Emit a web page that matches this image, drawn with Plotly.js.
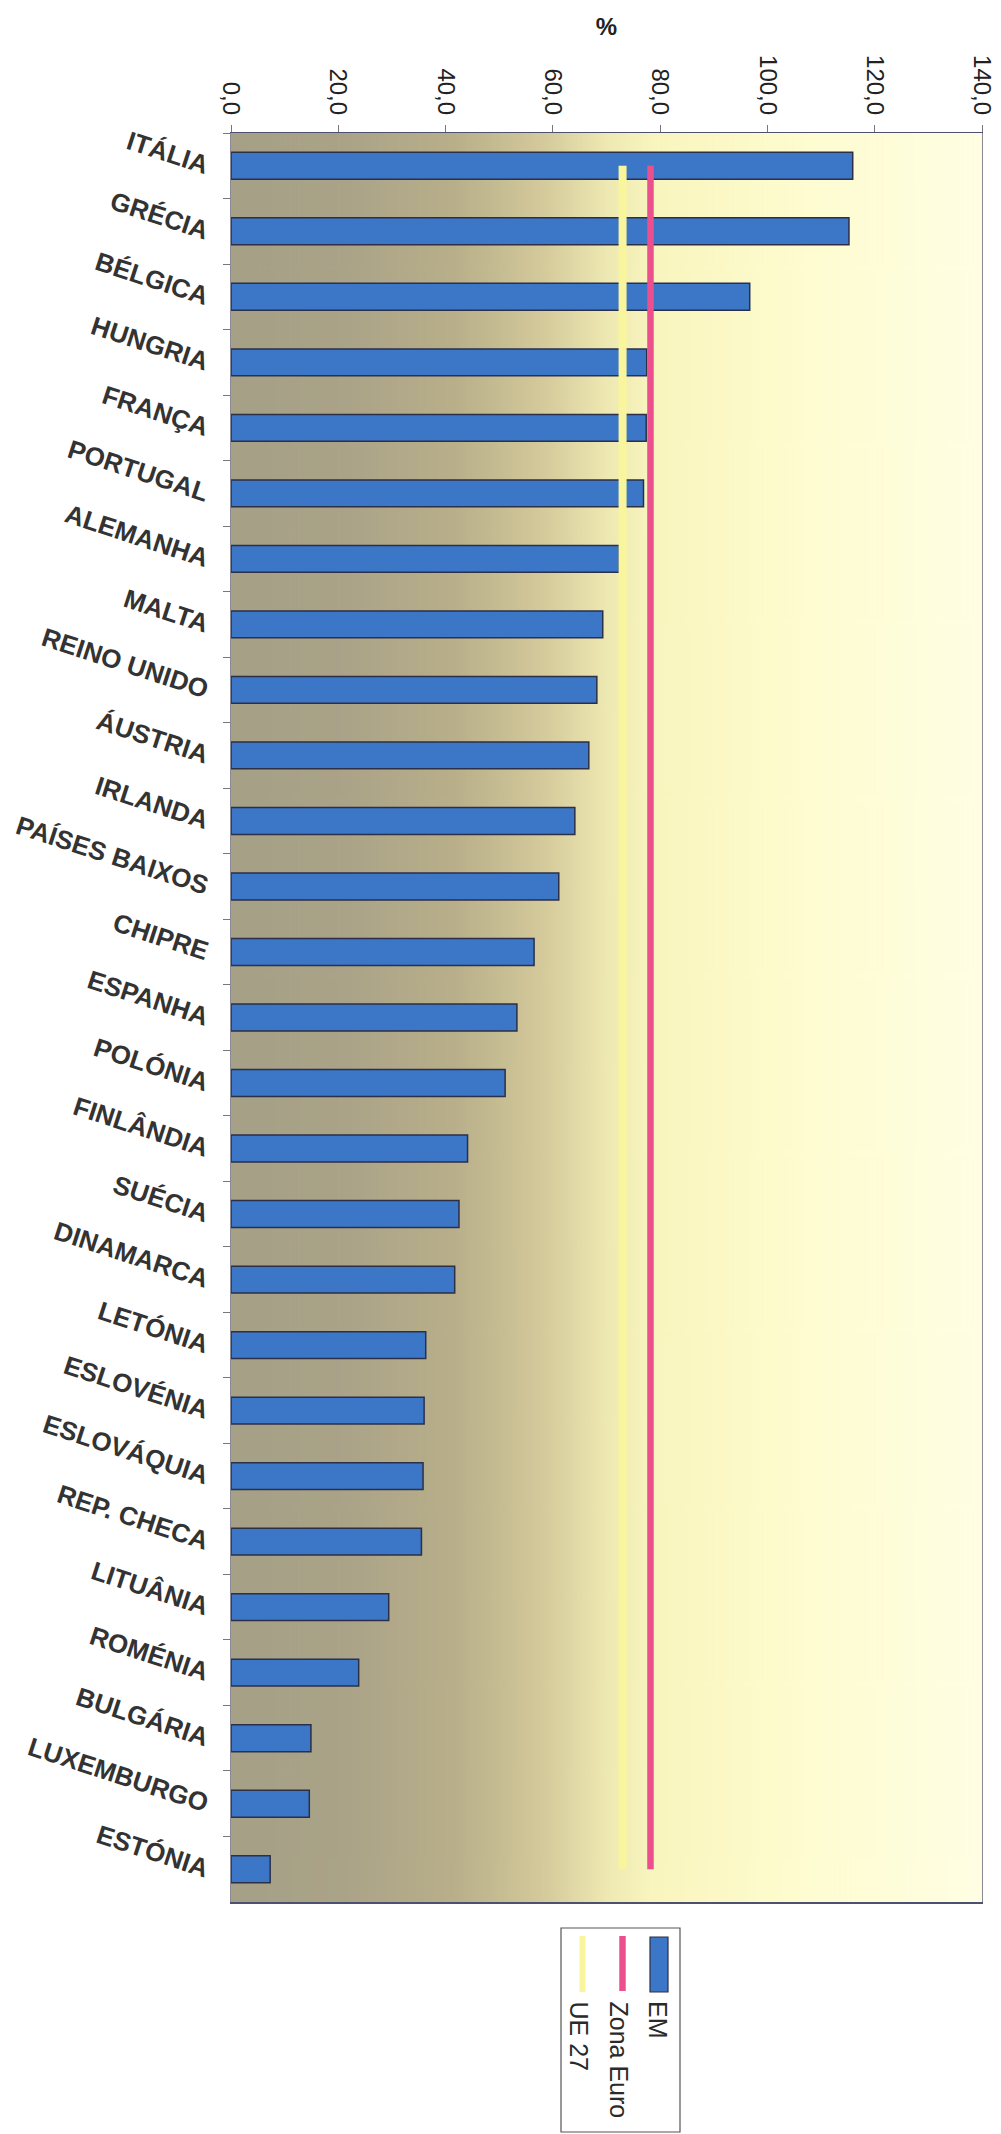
<!DOCTYPE html>
<html>
<head>
<meta charset="utf-8">
<script src="https://cdn.plot.ly/plotly-3.0.1.min.js"></script>
<style>
  html, body { margin: 0; padding: 0; background: #ffffff; }
  #chart { width: 1001px; height: 2134px; }
</style>
</head>
<body>
<div id="chart"></div>
<script>
// ---- data ----
const categories = [
  "ITÁLIA", "GRÉCIA", "BÉLGICA", "HUNGRIA", "FRANÇA", "PORTUGAL", "ALEMANHA",
  "MALTA", "REINO UNIDO", "ÁUSTRIA", "IRLANDA", "PAÍSES BAIXOS", "CHIPRE",
  "ESPANHA", "POLÓNIA", "FINLÂNDIA", "SUÉCIA", "DINAMARCA", "LETÓNIA",
  "ESLOVÉNIA", "ESLOVÁQUIA", "REP. CHECA", "LITUÂNIA", "ROMÉNIA", "BULGÁRIA",
  "LUXEMBURGO", "ESTÓNIA"
];
const emValues = [
  115.9, 115.2, 96.7, 77.5, 77.4, 76.9, 72.4,
  69.3, 68.2, 66.7, 64.1, 61.1, 56.5,
  53.3, 51.1, 44.1, 42.5, 41.7, 36.3,
  36.0, 35.8, 35.5, 29.4, 23.8, 14.9,
  14.6, 7.3
];
const zonaEuro = 78.2;
const ue27 = 73.0;
const seriesNames = ["EM", "Zona Euro", "UE 27"];
const xTickVals = [0, 20, 40, 60, 80, 100, 120, 140];

// ---- layout geometry (pixels) ----
const W = 1001, H = 2134;
const M = { l: 231, r: 19, t: 133, b: 232 };
const plotW = W - M.l - M.r, plotH = H - M.t - M.b;
const px = x => (x - M.l) / plotW;
const py = y => (H - M.b - y) / plotH;

// ---- background gradient for the plot area ----
function gradientURL() {
  const c = document.createElement('canvas');
  c.width = 600; c.height = 20;
  const g = c.getContext('2d');
  const lg = g.createLinearGradient(0, 0, 600, 0);
  lg.addColorStop(0.00, '#a5a086');
  lg.addColorStop(0.15, '#aaa388');
  lg.addColorStop(0.30, '#b9af8a');
  lg.addColorStop(0.42, '#d5cb9c');
  lg.addColorStop(0.50, '#eee8b2');
  lg.addColorStop(0.56, '#f9f5be');
  lg.addColorStop(0.75, '#fefccf');
  lg.addColorStop(1.00, '#fffee3');
  g.fillStyle = lg;
  g.fillRect(0, 0, 600, 20);
  return c.toDataURL('image/png');
}

const FONT = 'Liberation Sans, Arial, sans-serif';
const barColor = '#3b77c6';
const barLine = '#2c2f48';
const pink = '#ec4f8d';
const yellow = '#f8f59c';

const traces = [
  {
    type: 'bar', orientation: 'h', name: seriesNames[0],
    y: categories, x: emValues,
    marker: { color: barColor, line: { color: barLine, width: 1.5 } },
    showlegend: false, hoverinfo: 'x+y'
  },
  {
    type: 'scatter', mode: 'lines', name: seriesNames[2],
    y: categories, x: categories.map(() => ue27),
    line: { color: yellow, width: 8 }, showlegend: false
  },
  {
    type: 'scatter', mode: 'lines', name: seriesNames[1],
    y: categories, x: categories.map(() => zonaEuro),
    line: { color: pink, width: 6.5 }, showlegend: false
  }
];

// legend drawn manually (rotated like the reference)
const legendShapes = [
  { type: 'rect', xref: 'paper', yref: 'paper',
    x0: px(561), x1: px(680), y0: py(1928), y1: py(2132),
    line: { color: '#555', width: 1.2 }, fillcolor: '#ffffff', layer: 'above' },
  { type: 'rect', xref: 'paper', yref: 'paper',
    x0: px(650), x1: px(668), y0: py(1937), y1: py(1992),
    line: { color: barLine, width: 1.2 }, fillcolor: barColor, layer: 'above' },
  { type: 'line', xref: 'paper', yref: 'paper',
    x0: px(622.5), x1: px(622.5), y0: py(1936), y1: py(1991),
    line: { color: pink, width: 6.5 }, layer: 'above' },
  { type: 'line', xref: 'paper', yref: 'paper',
    x0: px(582.5), x1: px(582.5), y0: py(1936), y1: py(1992),
    line: { color: yellow, width: 6 }, layer: 'above' }
];
const legendX = [658, 619, 579];
const legendAnn = seriesNames.map((n, i) => ({
  xref: 'paper', yref: 'paper', x: px(legendX[i]), y: py(1999),
  xanchor: 'center', yanchor: 'top', showarrow: false, textangle: 90,
  text: n, font: { family: FONT, size: 25, color: '#2a2a2a' }
}));

const layout = {
  width: W, height: H,
  margin: M,
  paper_bgcolor: '#ffffff',
  plot_bgcolor: 'rgba(0,0,0,0)',
  separators: ', ',
  showlegend: false,
  bargap: 0.59,
  font: { family: FONT, color: '#222' },
  images: [{
    source: gradientURL(), xref: 'paper', yref: 'paper',
    x: 0, y: 1, sizex: 1, sizey: 1, sizing: 'stretch',
    xanchor: 'left', yanchor: 'top', layer: 'below'
  }],
  xaxis: {
    side: 'top', range: [0, 140], tickvals: xTickVals, tickformat: '.1f',
    tickangle: 90, ticks: 'outside', ticklen: 7, tickcolor: '#777',
    ticklabelstandoff: 1,
    showline: true, mirror: true, linecolor: '#4d5070', linewidth: 1.5,
    showgrid: false, zeroline: false,
    tickfont: { family: FONT, size: 24, color: '#222' },
    title: { text: '%', standoff: 12, font: { family: FONT, size: 24, color: '#222', weight: 'bold' } }
  },
  yaxis: {
    type: 'category', range: [categories.length - 0.5, -0.5], tickson: 'boundaries',
    ticks: 'outside', ticklen: 7, tickcolor: '#777',
    showline: true, mirror: true, linecolor: '#8a8a95', linewidth: 1,
    showgrid: false, zeroline: false, tickangle: 18,
    ticklabelstandoff: 16,
    tickfont: { family: FONT, size: 26, color: '#333', weight: 'bold' }
  },
  shapes: legendShapes,
  annotations: legendAnn
};

Plotly.newPlot('chart', traces, layout, { staticPlot: true, displayModeBar: false });
</script>
</body>
</html>
